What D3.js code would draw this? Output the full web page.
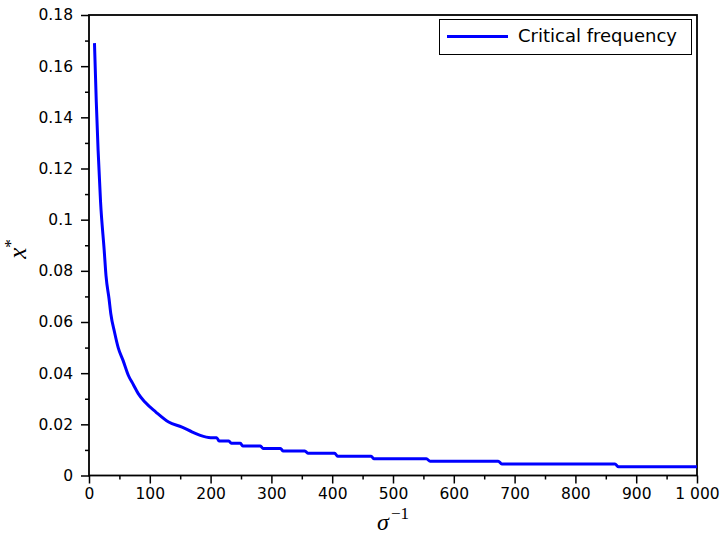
<!DOCTYPE html>
<html>
<head>
<meta charset="utf-8">
<script src="https://cdn.jsdelivr.net/npm/d3@7"></script>
<style>
body { margin: 0; background: #fff; }
</style>
</head>
<body>
<div id="chart"></div>
<script>
// values
var sigmaInv = [9, 12, 15, 19, 25, 28, 33, 36, 42, 48, 56, 65, 73, 81, 92, 110, 131, 153, 170, 183,
                200, 210, 214, 230, 234, 249, 253, 282, 286, 315, 319, 355, 360, 404, 409, 464,
                469, 555, 561, 673, 679, 865, 871, 1000];
var xStar = [0.169, 0.146, 0.127, 0.107, 0.088, 0.078, 0.069, 0.063, 0.056, 0.050, 0.045, 0.039, 0.0355, 0.032, 0.0287, 0.0248, 0.0209, 0.0189, 0.0170, 0.0157,
             0.0148, 0.0148, 0.0135, 0.0135, 0.0126, 0.0126, 0.0115, 0.0115, 0.0106, 0.0106, 0.0096, 0.0096, 0.0087, 0.0087, 0.0075, 0.0075,
             0.0065, 0.0065, 0.0056, 0.0056, 0.0045, 0.0045, 0.0034, 0.0034];

var xTickValues = [0, 100, 200, 300, 400, 500, 600, 700, 800, 900, 1000];
var xTickLabels = ["0", "100", "200", "300", "400", "500", "600", "700", "800", "900", "1 000"];
var yTickValues = [0, 0.02, 0.04, 0.06, 0.08, 0.1, 0.12, 0.14, 0.16, 0.18];
var yTickLabels = ["0", "0.02", "0.04", "0.06", "0.08", "0.1", "0.12", "0.14", "0.16", "0.18"];
var seriesName = "Critical frequency";

function init(){
    var w = 723;
    var h = 536;
    var left = 89, right = 697, top = 15, bottom = 475.5;

    var svg = d3.select("#chart")
                .append("svg")
                .attr("width", w)
                .attr("height", h)
                .style("background-color", "#fff");

    var x = d3.scaleLinear().domain([0, 1000]).range([left, right]);
    var y = d3.scaleLinear().domain([0, 0.18]).range([bottom, top]);

    // minor ticks sit halfway between the labelled ones
    var xMinor = xTickValues.slice(1).map(function(v){ return v - 50; });
    var yMinor = yTickValues.slice(1).map(function(v){ return +(v - 0.01).toFixed(3); });

    var tickFont = "'DejaVu Sans', sans-serif";

    // minor ticks (no labels)
    svg.append("g")
        .attr("transform", "translate(0," + bottom + ")")
        .call(d3.axisBottom(x).tickValues(xMinor).tickSize(4).tickFormat(""))
        .call(function(g){ g.select(".domain").remove(); })
        .selectAll("line").attr("stroke-width", 1.5);

    svg.append("g")
        .attr("transform", "translate(" + left + ",0)")
        .call(d3.axisLeft(y).tickValues(yMinor).tickSize(4).tickFormat(""))
        .call(function(g){ g.select(".domain").remove(); })
        .selectAll("line").attr("stroke-width", 1.5);

    // major ticks
    var xAxis = svg.append("g")
        .attr("transform", "translate(0," + bottom + ")")
        .call(d3.axisBottom(x)
                .tickValues(xTickValues)
                .tickSize(8)
                .tickPadding(4.5)
                .tickFormat(function(d, i){ return xTickLabels[i]; }));
    xAxis.select(".domain").remove();
    xAxis.selectAll("line").attr("stroke-width", 1.5);
    xAxis.selectAll("text")
        .attr("font-family", tickFont)
        .attr("font-size", "15.5px")
        .attr("fill", "#000");

    var yAxis = svg.append("g")
        .attr("transform", "translate(" + left + ",0)")
        .call(d3.axisLeft(y)
                .tickValues(yTickValues)
                .tickSize(8)
                .tickPadding(8)
                .tickFormat(function(d, i){ return yTickLabels[i]; }));
    yAxis.select(".domain").remove();
    yAxis.selectAll("line").attr("stroke-width", 1.5);
    yAxis.selectAll("text")
        .attr("font-family", tickFont)
        .attr("font-size", "15.5px")
        .attr("fill", "#000");

    // plot frame
    svg.append("rect")
        .attr("x", left)
        .attr("y", top)
        .attr("width", right - left)
        .attr("height", bottom - top)
        .attr("fill", "none")
        .attr("stroke", "#000")
        .attr("stroke-width", 1.8);

    // the curve
    var pts = sigmaInv.map(function(s, i){ return [s, xStar[i]]; });
    var line = d3.line()
                .curve(d3.curveMonotoneX)
                .x(function(d){ return x(d[0]); })
                .y(function(d){ return y(d[1]); });

    svg.append("path")
        .datum(pts)
        .attr("d", line)
        .attr("fill", "none")
        .attr("stroke", "#0000ff")
        .attr("stroke-width", 3)
        .attr("stroke-linejoin", "round");

    // legend
    var legend = svg.append("g");
    legend.append("rect")
        .attr("x", 439.5)
        .attr("y", 19.5)
        .attr("width", 252)
        .attr("height", 35)
        .attr("fill", "#fff")
        .attr("stroke", "#000")
        .attr("stroke-width", 1);
    legend.append("line")
        .attr("x1", 447).attr("x2", 508)
        .attr("y1", 36.5).attr("y2", 36.5)
        .attr("stroke", "#0000ff")
        .attr("stroke-width", 3);
    legend.append("text")
        .attr("x", 518)
        .attr("y", 42)
        .attr("font-family", tickFont)
        .attr("font-size", "18px")
        .text(seriesName);

    // axis titles
    var serif = "'Liberation Serif', 'DejaVu Serif', serif";
    var xt = svg.append("text")
        .attr("x", (left + right) / 2)
        .attr("y", 530)
        .attr("text-anchor", "middle")
        .attr("font-family", serif);
    xt.append("tspan").attr("font-style", "italic").attr("font-size", "24px").text("σ");
    xt.append("tspan").attr("font-size", "17px").attr("dx", 2).attr("dy", -11).text("−1");

    var yt = svg.append("text")
        .attr("transform", "translate(26,249) rotate(-90)")
        .attr("text-anchor", "middle")
        .attr("font-family", serif);
    yt.append("tspan").attr("font-style", "italic").attr("font-size", "25px").text("x");
    yt.append("tspan").attr("font-size", "17px").attr("dy", -10).text("*");
}
window.onload = init;
</script>
</body>
</html>
